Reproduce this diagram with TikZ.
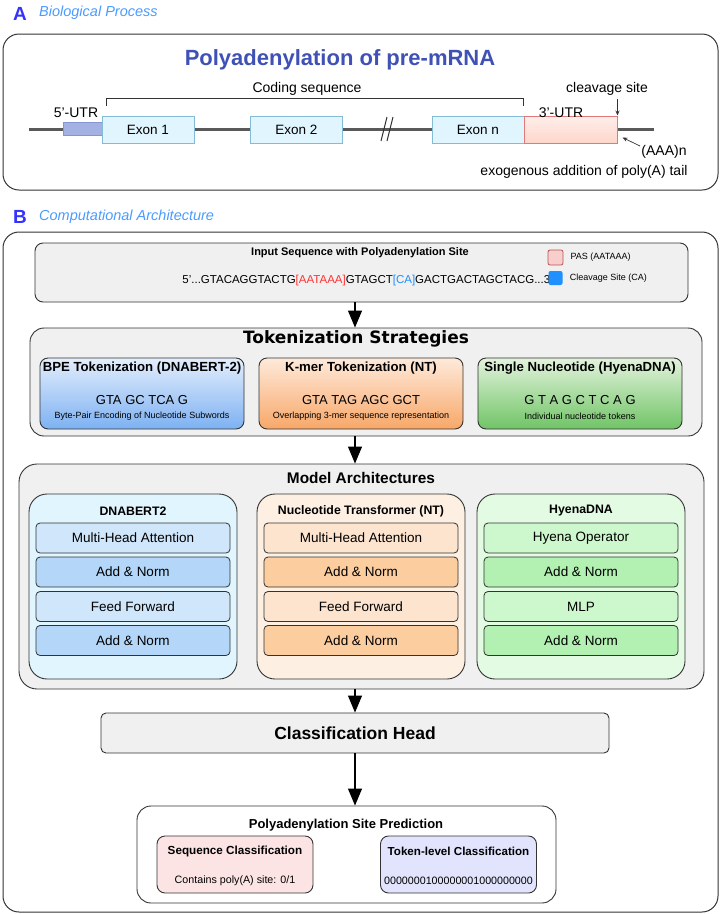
\documentclass[tikz,border=0pt]{standalone}
\usepackage{fontspec}
\setmainfont{Liberation Sans}
\newfontfamily\dejavu{DejaVu Sans}
\usetikzlibrary{arrows.meta,positioning}

\definecolor{panelgray}{HTML}{F0F0F0}
\definecolor{edge}{HTML}{333333}
\definecolor{labblue}{HTML}{3333FF}
\definecolor{subblue}{HTML}{4A9BFF}
\definecolor{titleblue}{HTML}{3F51B5}
\definecolor{exonfill}{HTML}{E1F5FE}
\definecolor{exonline}{HTML}{84BCD8}
\definecolor{utrfive}{HTML}{A3B2E3}
\definecolor{utrfiveline}{HTML}{8796D2}
\definecolor{utrthree}{HTML}{FDD6CB}
\definecolor{utrthreeline}{HTML}{E07A7A}
\definecolor{pasred}{HTML}{FF3333}
\definecolor{cablue}{HTML}{1E90FF}
\definecolor{pasfill}{HTML}{F8CECC}
\definecolor{pasline}{HTML}{B85450}
\definecolor{bpetop}{HTML}{E4EEFC}
\definecolor{bpebot}{HTML}{7DB1F2}
\definecolor{kmertop}{HTML}{FEEADB}
\definecolor{kmerbot}{HTML}{F8A768}
\definecolor{sngtop}{HTML}{E3F3DD}
\definecolor{sngbot}{HTML}{70C466}
\definecolor{bertbg}{HTML}{E1F5FE}
\definecolor{bertlight}{HTML}{CFE6FB}
\definecolor{bertdark}{HTML}{B3D6F9}
\definecolor{ntbg}{HTML}{FDEFE2}
\definecolor{ntlight}{HTML}{FDE4CE}
\definecolor{ntdark}{HTML}{FCCD9E}
\definecolor{hybg}{HTML}{E3FBE3}
\definecolor{hylight}{HTML}{CDF8CD}
\definecolor{hydark}{HTML}{B2F1B2}
\definecolor{seqfill}{HTML}{FDE4E4}
\definecolor{tokfill}{HTML}{E1E4FC}

\newcommand\fsz[1]{\fontsize{#1}{#1}\selectfont}

\tikzset{
  panel/.style={draw=edge, line width=1pt, rounded corners=16pt},
  graybox/.style={draw=edge, fill=panelgray, line width=0.9pt},
  exon/.style={draw=exonline, fill=exonfill, line width=1pt, minimum width=92pt,
    minimum height=27pt, inner sep=0pt, font=\fsz{13.5}},
  tokbox/.style={draw=edge, line width=0.9pt, rounded corners=8pt,
    minimum width=204pt, minimum height=71pt},
  colbox/.style={draw=edge, line width=0.9pt, rounded corners=18pt,
    minimum width=208pt, minimum height=185pt},
  layer/.style={draw=edge, line width=0.8pt, rounded corners=4pt, minimum width=194pt,
    minimum height=30pt, inner sep=0pt, font=\fsz{13.5}},
  outbox/.style={draw=edge, line width=0.9pt, rounded corners=8pt,
    minimum width=156pt, minimum height=57pt},
  flow/.style={-{Triangle[width=14pt,length=17pt]}, line width=1.1pt, black},
  pointer/.style={-{Stealth[length=5pt,width=4pt]}, line width=0.7pt, edge},
}

\begin{document}
\begin{tikzpicture}[x=1pt,y=-1pt]
\useasboundingbox (0,0) rectangle (722,914);

% panel A
\node[font=\bfseries\fsz{19}, text=labblue, anchor=west, inner sep=0pt] (labA) at (13,14) {A};
\node[font=\itshape\fsz{14.5}, text=subblue, anchor=west, inner sep=0pt] (subA) at (39,13) {Biological Process};
\node[panel, minimum width=715pt, minimum height=156pt] (panA) at (360.5,112) {};
\node[font=\bfseries\fsz{22}, text=titleblue] (titleA) at (340,60) {Polyadenylation of pre-mRNA};

% mRNA strand
\draw[line width=3pt, black!65] (29,129) -- (654,129);
\draw[line width=1pt, edge] (381,141) -- (387,117) (387,141) -- (393,117);
\node[draw=utrfiveline, fill=utrfive, line width=1pt, minimum width=39pt, minimum height=13pt,
  inner sep=0pt] (utr5) at (82.5,129) {};
\foreach \n/\cx/\lab in {ex1/148/Exon 1, ex2/296.5/Exon 2, exn/478/Exon n}
  \node[exon] (\n) at (\cx,129.5) {\lab};
\node[draw=utrthreeline, top color=utrthree!40, bottom color=utrthree, line width=1pt,
  minimum width=93pt, minimum height=27pt, inner sep=0pt] (utr3) at (570.5,129.5) {};

\node[font=\fsz{14}] (lab5) at (76,113) {5’-UTR};
\node[font=\fsz{14}] (lab3) at (561,113) {3’-UTR};
\node[font=\fsz{14}] (coding) at (307,89) {Coding sequence};
\draw[line width=0.8pt, edge] ([xshift=5pt,yshift=10pt]ex1.north west) -- ++(0,-7)
  -| ([xshift=-1pt,yshift=10pt]exn.north east);
\node[font=\fsz{14}] (cleave) at (607,89) {cleavage site};
\draw[pointer] (utr3.north east |- cleave.south) -- (utr3.north east);
\node[font=\fsz{14}] (polyA) at (664,152) {(AAA)n};
\node[font=\fsz{14}] (exo) at (584,172) {exogenous addition of poly(A) tail};
\draw[pointer] ([xshift=2pt,yshift=-4pt]polyA.north west) -- ([xshift=5pt,yshift=6pt]utr3.south east);

% panel B
\node[font=\bfseries\fsz{19}, text=labblue, anchor=west, inner sep=0pt] (labB) at (13,217) {B};
\node[font=\itshape\fsz{14.5}, text=subblue, anchor=west, inner sep=0pt] (subB) at (39,217) {Computational Architecture};
\node[panel, minimum width=715pt, minimum height=680pt] (panB) at (360.5,572) {};

% input sequence
\node[graybox, rounded corners=8pt, minimum width=653pt, minimum height=59pt] (inp) at (361.5,272.5) {};
\node[font=\bfseries\fsz{11}] (inptitle) at (360,253) {Input Sequence with Polyadenylation Site};
\node[font=\fsz{11.5}, anchor=east, inner sep=0pt] (seq) at (553,281)
  {5'...GTACAGGTACTG\textcolor{pasred}{[AATAAA]}GTAGCT\textcolor{cablue}{[CA]}GACTGACTAGCTACG...3'};
\node[draw=pasline, fill=pasfill, line width=0.8pt, rounded corners=2pt, minimum size=15pt,
  inner sep=0pt] (pasbox) at (555.5,257.5) {};
\node[right=7pt of pasbox, font=\fsz{9}, inner sep=0pt] (paslab) {PAS (AATAAA)};
\node[fill=cablue, rounded corners=2pt, minimum size=14pt, inner sep=0pt] (cabox) at (555.5,278) {};
\node[right=7pt of cabox, font=\fsz{9}, inner sep=0pt] (calab) {Cleavage Site (CA)};

% tokenization
\node[graybox, rounded corners=14pt, minimum width=672pt, minimum height=108pt] (tok) at (366,382) {};
\node[font=\dejavu\bfseries\fsz{17}] (toktitle) at (356,339) {Tokenization Strategies};
\foreach \n/\cx/\tc/\bc/\head/\toks/\note in {
  bpe/142/bpetop/bpebot/{BPE Tokenization (DNABERT-2)}/{GTA GC TCA G}/{Byte-Pair Encoding of Nucleotide Subwords},
  kmer/361/kmertop/kmerbot/{K-mer Tokenization (NT)}/{GTA TAG AGC GCT}/{Overlapping 3-mer sequence representation},
  single/580/sngtop/sngbot/{Single Nucleotide (HyenaDNA)}/{G T A G C T C A G}/{Individual nucleotide tokens}}{
  \node[tokbox, top color=\tc, bottom color=\bc] (\n) at (\cx,393.5) {};
  \node[font=\bfseries\fsz{13.2}] (\n-head) at (\cx,368) {\head};
  \node[font=\fsz{13}] (\n-toks) at (\cx,400) {\toks};
  \node[font=\fsz{9}] (\n-note) at (\cx,416) {\note};
}

% model architectures
\node[graybox, rounded corners=18pt, minimum width=685pt, minimum height=225pt] (model) at (361.5,576.5) {};
\node[font=\bfseries\fsz{15.4}] (modeltitle) at (361,478) {Model Architectures};
\foreach \col/\cx/\head/\first/\third in {
  bert/133/DNABERT2/Multi-Head Attention/Feed Forward,
  nt/361/Nucleotide Transformer (NT)/Multi-Head Attention/Feed Forward,
  hy/581/HyenaDNA/Hyena Operator/MLP}{
  \node[colbox, fill=\col bg] (\col) at (\cx,586.5) {};
  \node[font=\bfseries\fsz{12.3}] (\col-head) at (\cx,511) {\head};
  \node[layer, fill=\col light] (\col1) at (\cx,538) {\first};
  \node[layer, fill=\col dark] (\col2) at (\cx,572) {Add \& Norm};
  \node[layer, fill=\col light] (\col3) at (\cx,606.5) {\third};
  \node[layer, fill=\col dark] (\col4) at (\cx,640.5) {Add \& Norm};
}

% head and prediction
\node[graybox, rounded corners=5pt, minimum width=508pt, minimum height=40pt,
  font=\bfseries\fsz{17.5}] (ch) at (355,733) {Classification Head};
\node[draw=edge, fill=white, line width=0.9pt, rounded corners=14pt, minimum width=419pt,
  minimum height=97pt] (pred) at (346.5,854.5) {};
\node[font=\bfseries\fsz{13}] (predtitle) at (346,825) {Polyadenylation Site Prediction};
\node[outbox, fill=seqfill] (seqcls) at (235,864.5) {};
\node[font=\bfseries\fsz{11.7}] (seqhead) at (235,851) {Sequence Classification};
\node[font=\fsz{10.7}] (seqtext) at (235,881) {Contains poly(A) site: 0/1};
\node[outbox, fill=tokfill] (tokcls) at (458.5,864.5) {};
\node[font=\bfseries\fsz{11.6}] (tokhead) at (458.5,851) {Token-level Classification};
\node[font=\fsz{10.7}] (toktext) at (458.5,881) {0000000100000001000000000};

% flow arrows
\draw[flow] (inp.south -| ch.north) -- (tok.north -| ch.north);
\draw[flow] (tok.south -| ch.north) -- (model.north -| ch.north);
\draw[flow] (model.south -| ch.north) -- (ch.north);
\draw[flow] (ch.south) -- (pred.north -| ch.south);
\end{tikzpicture}
\end{document}
